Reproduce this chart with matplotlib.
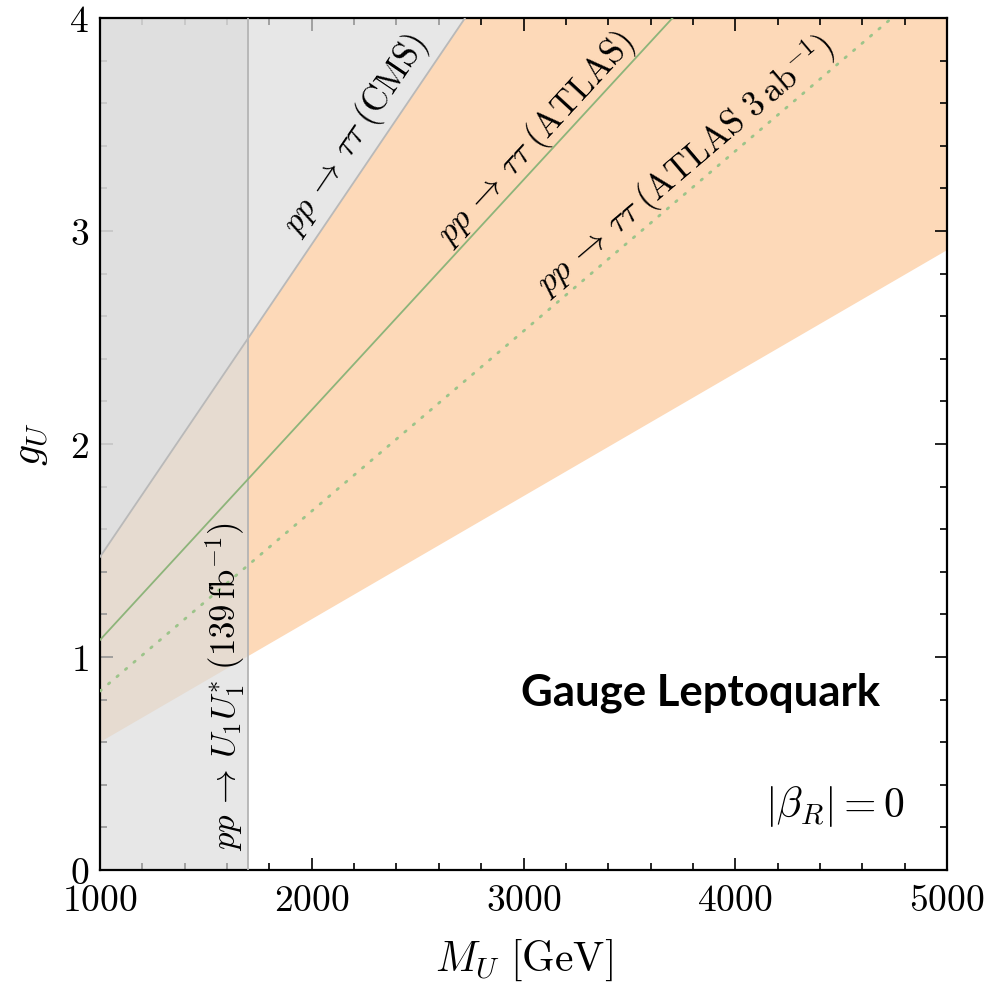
import numpy as np
import matplotlib
matplotlib.use('Agg')
import matplotlib.pyplot as plt
from matplotlib.ticker import MultipleLocator

plt.rcParams['mathtext.fontset'] = 'cm'
plt.rcParams['font.family'] = ['DejaVu Serif']

# Leptoquark mass grid (GeV) and coupling limits at the two ends
mass = [1000, 5000]
g_cms = [1.47, 7.34]          # pp -> tau tau (CMS)
g_atlas = [1.08, 5.40]        # pp -> tau tau (ATLAS)
g_atlas_hl = [0.84, 4.22]     # pp -> tau tau (ATLAS 3 ab^-1)
g_band_low = [0.60, 2.91]     # lower edge of the preferred band
pair_limit = 1700             # pp -> U1 U1* (139 fb^-1)

xticks = [1000, 2000, 3000, 4000, 5000]
yticks = [0, 1, 2, 3, 4]

fig = plt.figure(figsize=(9.87, 9.96), dpi=100)
ax = fig.add_axes([100 / 987, 126 / 996, 847 / 987, 852 / 996])

# preferred band, capped by the CMS ditau limit
ax.fill_between(mass, g_band_low, g_cms, color='#fdd9b8', lw=0, zorder=1)

# excluded regions
ax.fill_between(mass, g_cms, [10, 10], color='#dcdcdc', alpha=0.68, lw=0, zorder=2)
ax.axvspan(mass[0], pair_limit, color='#dcdcdc', alpha=0.68, lw=0, zorder=2)
ax.axvline(pair_limit, color='#b4b4b4', lw=1.3, zorder=3)
ax.plot(mass, g_cms, color='#b9b9b9', lw=1.3, zorder=3)

ax.plot(mass, g_atlas, color='#8db47a', lw=1.3, zorder=4)
ax.plot(mass, g_atlas_hl, color='#9cc48a', lw=2.0, ls=(0, (0.6, 3.4)),
        dash_capstyle='round', zorder=4)

ax.set_xlim(1000, 5000)
ax.set_ylim(0, 4)


def slope_angle(g):
    return np.degrees(np.arctan2(g[1] - g[0], mass[1] - mass[0]))


txt = dict(ha='center', va='center', fontsize=25, rotation_mode='anchor',
           transform_rotates_text=True, zorder=5)
ax.text(2204, 3.45, r'$pp \,\to\, \tau\tau\; (\mathrm{CMS})$',
        rotation=slope_angle(g_cms), **txt)
ax.text(3059, 3.43, r'$pp \,\to\, \tau\tau\; (\mathrm{ATLAS})$',
        rotation=slope_angle(g_atlas), **txt)
ax.text(3763, 3.31, r'$pp \,\to\, \tau\tau\; (\mathrm{ATLAS}\ 3\,\mathrm{ab}^{-1})$',
        rotation=slope_angle(g_atlas_hl), **txt)
ax.text(1590, 0.86, r'$pp \,\to\, U_1 U_1^{*}\; (139\,\mathrm{fb}^{-1})$',
        rotation=90, ha='center', va='center', fontsize=25, zorder=5)

ax.text(0.921, 0.208, 'Gauge Leptoquark', transform=ax.transAxes,
        family='Lato', fontweight='bold', fontsize=31.5, ha='right', va='center')
ax.text(0.950, 0.075, r'$|\beta_R| = 0$', transform=ax.transAxes,
        fontsize=30, ha='right', va='center')

ax.set_xticks(xticks)
ax.set_xticklabels([f'${t}$' for t in xticks])
ax.set_yticks(yticks)
ax.set_yticklabels([f'${t}$' for t in yticks])
ax.xaxis.set_minor_locator(MultipleLocator(200))
ax.yaxis.set_minor_locator(MultipleLocator(0.2))
ax.tick_params(which='both', direction='in', top=True, right=True,
               labelsize=27, width=1.2)
ax.tick_params(which='major', length=9)
ax.tick_params(which='minor', length=5)
ax.tick_params(axis='x', pad=9)
ax.tick_params(axis='y', pad=8)
for s in ax.spines.values():
    s.set_linewidth(1.6)

ax.set_xlabel(r'$M_U\ [\mathrm{GeV}]$', fontsize=30, labelpad=14)
ax.set_ylabel(r'$g_U$', fontsize=30, labelpad=14)

fig.savefig('out.png', dpi=100)
